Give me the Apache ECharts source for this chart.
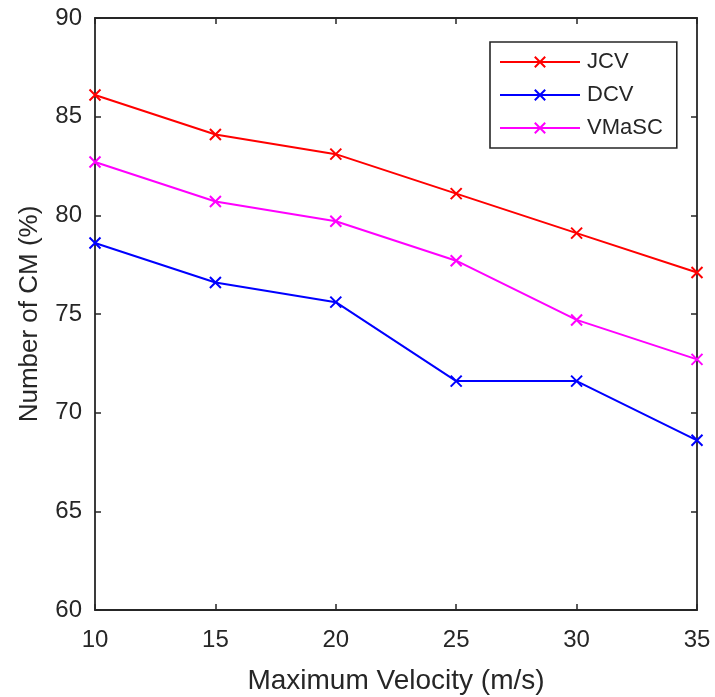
<!DOCTYPE html>
<html><head><meta charset="utf-8">
<script src="https://cdn.jsdelivr.net/npm/echarts@6/dist/echarts.min.js"></script>
<style>html,body{margin:0;padding:0;background:#fff}#c{width:715px;height:697px}</style>
</head><body><div id="c"></div>
<script>
const velocities = [10, 15, 20, 25, 30, 35];
const jcv = [86.1, 84.1, 83.1, 81.1, 79.1, 77.1];
const dcv = [78.6, 76.6, 75.6, 71.6, 71.6, 68.6];
const vmasc = [82.7, 80.7, 79.7, 77.7, 74.7, 72.7];
const seriesNames = ['JCV', 'DCV', 'VMaSC'];
const colors = ['#ff0000', '#0000ff', '#ff00ff'];
const xTitle = 'Maximum Velocity (m/s)';
const yTitle = 'Number of CM (%)';

const chart = echarts.init(document.getElementById('c'));
const font = 'Liberation Sans, Arial, sans-serif';
const xMark = 'path://M0,0L10,10M10,0L0,10';
function mk(name, vals, color) {
  return {
    name: name, type: 'line',
    data: velocities.map((v, i) => [v, vals[i]]),
    symbol: xMark, symbolSize: 11, showSymbol: true,
    lineStyle: { color: color, width: 2 },
    itemStyle: { color: color, borderColor: color, borderWidth: 2 },
    emphasis: { disabled: true },
    animation: false
  };
}
const axisCommon = {
  axisLine: { show: true, lineStyle: { color: '#262626', width: 1.8 } },
  axisTick: { show: true, inside: true, length: 6, lineStyle: { color: '#262626', width: 1.5 } },
  splitLine: { show: false }
};
chart.setOption({
  animation: false,
  grid: { left: 95, right: 18, top: 18, bottom: 87, outerBoundsMode: 'none', containLabel: false },
  legend: {
    data: seriesNames, orient: 'vertical', left: 490, top: 42,
    itemWidth: 80, itemHeight: 13, itemGap: 11,
    padding: [9, 14, 9, 9],
    borderColor: '#262626', borderWidth: 1.6, backgroundColor: '#fff',
    textStyle: { fontFamily: font, fontSize: 22, color: '#262626', padding: [0, 0, 0, 2] }
  },
  xAxis: [
    Object.assign({ type: 'value', min: 10, max: 35, interval: 5, position: 'bottom',
      name: xTitle, nameLocation: 'middle', nameGap: 57,
      nameTextStyle: { fontFamily: font, fontSize: 28, color: '#262626' },
      axisLabel: { fontFamily: font, fontSize: 24, color: '#262626', margin: 18 } }, axisCommon),
    Object.assign({ type: 'value', min: 10, max: 35, interval: 5, position: 'top',
      axisLabel: { show: false } }, axisCommon)
  ],
  yAxis: [
    Object.assign({ type: 'value', min: 60, max: 90, interval: 5, position: 'left',
      name: yTitle, nameLocation: 'middle', nameGap: 52,
      nameTextStyle: { fontFamily: font, fontSize: 26, color: '#262626' },
      axisLabel: { fontFamily: font, fontSize: 24, color: '#262626', margin: 13 } }, axisCommon),
    Object.assign({ type: 'value', min: 60, max: 90, interval: 5, position: 'right',
      axisLabel: { show: false } }, axisCommon)
  ],
  series: [mk(seriesNames[0], jcv, colors[0]), mk(seriesNames[1], dcv, colors[1]), mk(seriesNames[2], vmasc, colors[2])]
});
</script></body></html>
